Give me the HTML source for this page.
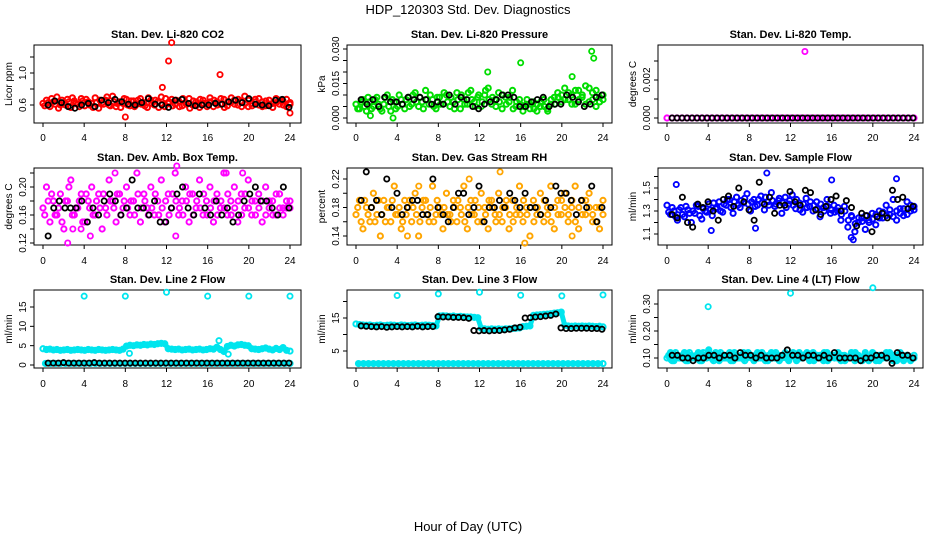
<!DOCTYPE html>
<html><head><meta charset="utf-8">
<style>
body{margin:0;background:#fff;}
svg{display:block;font-family:"Liberation Sans",sans-serif;}
</style></head>
<body>
<svg id="c" width="936" height="540"></svg>
<script>
// ---- data ----
const hours = [0,4,8,12,16,20,24];
const co2Vals = [0.62,0.66,0.58,0.64,0.70,0.60,0.63,0.67,0.57,0.65,0.61,0.68,0.59,0.64,0.62,0.69,0.56,0.63,0.66,0.60,0.71,0.58,0.64,0.62,0.67,0.59,0.65,0.61,0.68,0.63,0.57,0.66,0.60,0.64,0.70,0.58,0.62,0.67,0.61,0.65,0.59,0.63,0.68,0.60,0.64,0.57,0.66,0.62,0.69,0.58,0.64,0.61,0.67,0.59,0.63,0.66,0.60,0.65,0.71,0.58,0.62,0.67,0.60,0.64,0.59,0.66,0.62,0.68,0.61,0.65,0.58,0.63];
const co2Vals2 = [0.59,0.63,0.68,0.61,0.56,0.66,0.60,0.64,0.69,0.62,0.58,0.65,0.67,0.60,0.57,0.63,0.66,0.61,0.70,0.59,0.64,0.62,0.57,0.68,0.60,0.65,0.58,0.66,0.61,0.59,0.69,0.62,0.66,0.57,0.61,0.68,0.64,0.59,0.66,0.58,0.68,0.61,0.56,0.65,0.60,0.67,0.62,0.58,0.64,0.66,0.60,0.68,0.57,0.64,0.69,0.61,0.67,0.58,0.62,0.66,0.59,0.64,0.68,0.58,0.65,0.61,0.57,0.63,0.66,0.60,0.67,0.61];
const co2Black = [0.60,0.65,0.63,0.58,0.56,0.60,0.62,0.58,0.66,0.63,0.67,0.64,0.61,0.60,0.63,0.68,0.61,0.60,0.57,0.66,0.67,0.62,0.59,0.60,0.60,0.62,0.61,0.64,0.66,0.63,0.68,0.61,0.60,0.59,0.66,0.67,0.57];
const co2OutX = [8.0,11.6,12.2,12.5,17.2,24.0];
const co2OutY = [0.45,0.82,1.15,1.38,0.98,0.50];

const presVals = [0.006,0.004,0.008,0.003,0.007,0.005,0.009,0.004,0.006,0.010,0.003,0.007,0.005,0.008,0.004,0.009,0.006,0.011,0.005,0.007,0.012,0.006,0.008,0.004,0.009,0.006,0.010,0.005,0.007,0.011,0.004,0.008,0.006,0.012,0.007,0.009,0.005,0.010,0.013,0.006,0.008,0.011,0.004,0.009,0.007,0.012,0.005,0.008,0.003,0.006,0.004,0.007,0.003,0.005,0.008,0.004,0.006,0.009,0.011,0.007,0.013,0.008,0.010,0.006,0.012,0.009,0.014,0.007,0.011,0.005,0.009,0.008];
const presVals2 = [0.004,0.007,0.005,0.009,0.004,0.008,0.006,0.003,0.009,0.005,0.008,0.004,0.010,0.006,0.008,0.005,0.010,0.007,0.009,0.004,0.008,0.010,0.005,0.009,0.006,0.011,0.007,0.009,0.004,0.008,0.010,0.006,0.011,0.008,0.005,0.010,0.007,0.012,0.008,0.009,0.005,0.007,0.010,0.006,0.009,0.004,0.007,0.006,0.005,0.008,0.006,0.004,0.006,0.007,0.005,0.003,0.008,0.006,0.009,0.010,0.008,0.011,0.006,0.012,0.008,0.010,0.006,0.013,0.008,0.012,0.007,0.010];
const presBlack = [0.008,0.006,0.008,0.005,0.009,0.007,0.007,0.006,0.009,0.008,0.009,0.008,0.006,0.007,0.006,0.010,0.006,0.009,0.008,0.005,0.004,0.006,0.007,0.008,0.010,0.010,0.009,0.005,0.005,0.007,0.008,0.009,0.005,0.006,0.006,0.010,0.009,0.007,0.005,0.006,0.009,0.010];
const presOutX = [1.4,3.6,12.8,16.0,21.0,22.9,23.1];
const presOutY = [0.001,0.000,0.020,0.024,0.018,0.029,0.026];

const tempVals = [0,0,0,0,0,0,0,0,0,0,0,0,0,0,0,0,0,0,0,0,0,0,0,0,0,0,0,0,0,0,0,0,0,0,0,0,0,0,0,0,0,0,0,0,0,0,0,0,0,0,0];
const tempBlack = [0,0,0,0,0,0,0,0,0,0,0,0,0,0,0,0,0,0,0,0,0,0,0,0,0,0,0,0,0,0,0,0,0,0,0,0,0,0,0,0,0,0,0,0,0,0,0,0,0];
const tempOutX = [13.4];
const tempOutY = [0.0035];

const boxVals = [0.17,0.20,0.15,0.18,0.16,0.19,0.14,0.18,0.21,0.16,0.17,0.19,0.15,0.18,0.20,0.16,0.19,0.14,0.17,0.21,0.18,0.15,0.19,0.17,0.20,0.16,0.18,0.22,0.15,0.19,0.17,0.20,0.16,0.18,0.21,0.15,0.19,0.17,0.22,0.16,0.18,0.20,0.15,0.19,0.17,0.21,0.16,0.18,0.20,0.15,0.19,0.17,0.22,0.16,0.18,0.20,0.15,0.19,0.17,0.21,0.16,0.18,0.19,0.15,0.20,0.17,0.18,0.16,0.19,0.17,0.18,0.17];
const boxVals2 = [0.16,0.18,0.19,0.16,0.17,0.15,0.18,0.20,0.16,0.17,0.18,0.15,0.19,0.17,0.16,0.18,0.17,0.19,0.16,0.18,0.17,0.19,0.16,0.18,0.17,0.18,0.16,0.19,0.17,0.18,0.16,0.17,0.19,0.16,0.17,0.18,0.16,0.19,0.18,0.17,0.16,0.18,0.19,0.16,0.18,0.17,0.19,0.16,0.17,0.18,0.16,0.18,0.17,0.19,0.16,0.17,0.18,0.16,0.19,0.17,0.18,0.16,0.17,0.18,0.16,0.18,0.16,0.19,0.17,0.16,0.17,0.18];
const boxBlack = [0.13,0.17,0.18,0.17,0.17,0.17,0.18,0.15,0.17,0.16,0.18,0.19,0.18,0.16,0.17,0.21,0.17,0.17,0.16,0.18,0.15,0.15,0.17,0.19,0.20,0.17,0.16,0.19,0.17,0.16,0.18,0.16,0.17,0.15,0.16,0.18,0.19,0.20,0.18,0.18,0.17,0.16,0.20,0.17];
const boxOutX = [2.4,2.9,3.7,4.6,7.0,12.9,13.0,17.8,19.4];
const boxOutY = [0.12,0.14,0.14,0.13,0.22,0.13,0.23,0.22,0.22];

const rhVals = [0.17,0.19,0.15,0.18,0.16,0.20,0.17,0.14,0.19,0.18,0.16,0.21,0.17,0.15,0.19,0.18,0.16,0.20,0.14,0.18,0.19,0.16,0.21,0.17,0.18,0.15,0.20,0.17,0.19,0.16,0.18,0.21,0.15,0.19,0.17,0.16,0.20,0.18,0.15,0.19,0.17,0.20,0.16,0.18,0.15,0.19,0.17,0.21,0.16,0.18,0.14,0.19,0.17,0.20,0.16,0.18,0.21,0.15,0.19,0.17,0.20,0.16,0.18,0.21,0.15,0.19,0.17,0.20,0.16,0.18,0.15,0.19];
const rhVals2 = [0.18,0.16,0.19,0.17,0.18,0.16,0.19,0.17,0.16,0.18,0.19,0.17,0.18,0.16,0.17,0.19,0.18,0.17,0.16,0.19,0.17,0.18,0.16,0.19,0.17,0.18,0.17,0.16,0.18,0.19,0.17,0.16,0.18,0.17,0.19,0.18,0.16,0.17,0.19,0.18,0.16,0.17,0.18,0.19,0.17,0.16,0.18,0.17,0.19,0.17,0.18,0.16,0.18,0.17,0.19,0.17,0.16,0.18,0.17,0.19,0.18,0.17,0.19,0.16,0.18,0.17,0.19,0.18,0.17,0.16,0.18,0.17];
const rhBlack = [0.19,0.23,0.18,0.19,0.17,0.22,0.18,0.20,0.17,0.18,0.19,0.19,0.17,0.17,0.22,0.18,0.17,0.16,0.18,0.20,0.20,0.17,0.18,0.21,0.16,0.18,0.18,0.19,0.18,0.20,0.19,0.18,0.20,0.18,0.18,0.17,0.19,0.18,0.21,0.20,0.20,0.19,0.17,0.19,0.18,0.21,0.16,0.18];
const rhOutX = [5.0,6.1,11.0,14.0,16.4,21.0];
const rhOutY = [0.14,0.21,0.22,0.23,0.13,0.14];

const flowVals = [1.35,1.27,1.30,1.22,1.33,1.25,1.31,1.20,1.28,1.34,1.23,1.30,1.36,1.26,1.32,1.38,1.29,1.35,1.40,1.28,1.42,1.33,1.37,1.45,1.30,1.40,1.35,1.43,1.31,1.38,1.46,1.34,1.39,1.28,1.42,1.36,1.44,1.32,1.37,1.29,1.41,1.34,1.30,1.38,1.25,1.33,1.40,1.28,1.35,1.30,1.22,1.34,1.16,1.26,1.12,1.20,1.24,1.14,1.22,1.28,1.18,1.30,1.24,1.35,1.27,1.40,1.22,1.32,1.26,1.38,1.30,1.34];
const flowVals2 = [1.29,1.33,1.25,1.31,1.27,1.34,1.28,1.30,1.35,1.26,1.32,1.29,1.31,1.37,1.33,1.30,1.36,1.40,1.33,1.38,1.35,1.39,1.41,1.36,1.38,1.34,1.40,1.37,1.42,1.35,1.39,1.36,1.41,1.37,1.33,1.39,1.35,1.40,1.31,1.36,1.33,1.38,1.35,1.32,1.36,1.30,1.34,1.31,1.29,1.33,1.27,1.30,1.22,1.25,1.19,1.24,1.21,1.26,1.20,1.23,1.27,1.24,1.29,1.26,1.31,1.25,1.30,1.28,1.32,1.27,1.35,1.31];
const flowBlack = [1.27,1.24,1.42,1.20,1.16,1.36,1.33,1.38,1.30,1.22,1.40,1.43,1.34,1.50,1.38,1.31,1.22,1.55,1.36,1.42,1.28,1.35,1.35,1.47,1.38,1.35,1.48,1.46,1.31,1.27,1.34,1.40,1.43,1.30,1.39,1.33,1.17,1.28,1.26,1.12,1.25,1.28,1.24,1.48,1.40,1.42,1.32,1.34];
const flowOutX = [0.9,4.3,8.6,9.7,16.0,17.9,18.1,22.3];
const flowOutY = [1.53,1.13,1.15,1.63,1.57,1.07,1.05,1.58];

const l2Vals = [4.2,4.0,4.1,3.9,4.0,3.8,3.9,4.0,3.8,3.9,4.0,3.9,3.8,4.0,3.9,3.8,4.0,3.9,3.8,3.9,4.0,3.9,3.8,4.1,4.9,5.1,5.0,5.2,5.1,5.3,5.2,5.4,5.3,5.5,5.6,5.5,4.2,4.1,4.0,4.1,3.9,4.0,4.1,3.9,4.0,4.1,3.9,4.0,4.2,4.1,4.6,4.0,3.5,4.8,5.1,4.9,5.2,5.3,5.1,5.0,4.2,4.1,4.0,4.2,4.4,4.1,3.9,4.3,4.0,4.5,3.8,3.6];
const l2Black = [0.5,0.5,0.5,0.6,0.5,0.5,0.5,0.5,0.5,0.6,0.5,0.5,0.5,0.5,0.5,0.5,0.5,0.5,0.5,0.5,0.5,0.5,0.5,0.5,0.5,0.5,0.5,0.5,0.5,0.5,0.5,0.5,0.5,0.5,0.5,0.5,0.5,0.5,0.5,0.5,0.5,0.5,0.5,0.5,0.5,0.5,0.5,0.5];
const l2Low = [0.4,0.4,0.4,0.4,0.4,0.4,0.4,0.4,0.4,0.4,0.4,0.4,0.4,0.4,0.4,0.4,0.4,0.4,0.4,0.4,0.4,0.4,0.4,0.4,0.4,0.4,0.4,0.4,0.4,0.4,0.4,0.4,0.4,0.4,0.4,0.4,0.4,0.4,0.4,0.4,0.4,0.4,0.4,0.4,0.4,0.4,0.4,0.4,0.4,0.4];
const l2OutX = [4,8,12,16,20,24,17.1,8.4,18.0];
const l2OutY = [17.8,17.8,18.8,17.8,17.8,17.8,6.3,3.0,2.8];

const l3Vals = [13.2,13.0,12.9,12.8,12.9,12.7,12.8,12.9,12.7,12.8,12.9,12.8,12.7,12.9,12.8,12.7,12.8,12.9,12.7,12.8,12.9,12.8,12.7,12.6,15.6,15.7,15.6,15.5,15.6,15.4,15.5,15.4,15.3,15.3,15.2,15.1,11.9,11.7,11.6,11.7,11.6,11.7,11.6,11.7,11.7,11.8,11.9,12.0,12.4,12.5,12.6,15.8,15.9,16.0,16.1,16.2,16.3,16.5,16.6,16.8,12.8,12.6,12.5,12.6,12.5,12.6,12.5,12.6,12.5,12.4,12.5,12.3];
const l3Black = [12.6,12.5,12.4,12.3,12.4,12.2,12.3,12.4,12.3,12.4,12.3,12.5,12.3,12.4,12.4,15.4,15.3,15.3,15.2,15.2,15.1,14.9,11.2,11.1,11.2,11.1,11.2,11.2,11.4,11.6,12.0,12.2,15.0,15.1,15.3,15.4,15.6,15.8,16.2,12.0,11.8,11.8,11.9,11.9,11.9,11.8,11.8,11.6];
const l3Low = [1.2,1.2,1.2,1.2,1.2,1.2,1.2,1.2,1.2,1.2,1.2,1.2,1.2,1.2,1.2,1.2,1.2,1.2,1.2,1.2,1.2,1.2,1.2,1.2,1.2,1.2,1.2,1.2,1.2,1.2,1.2,1.2,1.2,1.2,1.2,1.2,1.2,1.2,1.2,1.2,1.2,1.2,1.2,1.2,1.2,1.2,1.2,1.2,1.2,1.2];
const l3OutX = [4,8,12,16,20,24];
const l3OutY = [21.8,22.3,22.8,21.9,21.7,22.0];

const l4Vals = [0.10,0.12,0.09,0.11,0.10,0.12,0.09,0.11,0.10,0.12,0.09,0.11,0.13,0.10,0.12,0.09,0.11,0.10,0.12,0.09,0.11,0.10,0.12,0.10,0.11,0.09,0.12,0.10,0.11,0.09,0.12,0.10,0.11,0.10,0.12,0.09,0.11,0.10,0.12,0.10,0.11,0.09,0.12,0.10,0.11,0.09,0.12,0.10,0.11,0.10,0.09,0.11,0.10,0.12,0.09,0.11,0.10,0.12,0.09,0.11,0.10,0.09,0.11,0.10,0.12,0.09,0.11,0.10,0.09,0.11,0.10,0.10];
const l4Vals2 = [0.11,0.09,0.12,0.10,0.11,0.09,0.12,0.10,0.11,0.09,0.12,0.10,0.11,0.09,0.10,0.12,0.10,0.11,0.09,0.12,0.10,0.11,0.09,0.12,0.10,0.11,0.10,0.12,0.09,0.11,0.10,0.12,0.09,0.11,0.10,0.11,0.12,0.09,0.10,0.11,0.12,0.10,0.09,0.11,0.10,0.12,0.09,0.11,0.10,0.12,0.11,0.09,0.10,0.11,0.12,0.10,0.09,0.11,0.10,0.12,0.09,0.11,0.10,0.12,0.10,0.11,0.09,0.12,0.10,0.11,0.09,0.11];
const l4Black = [0.11,0.11,0.10,0.10,0.09,0.10,0.10,0.11,0.11,0.10,0.11,0.11,0.10,0.12,0.11,0.11,0.10,0.11,0.10,0.10,0.10,0.11,0.13,0.11,0.11,0.10,0.11,0.11,0.10,0.11,0.10,0.12,0.10,0.10,0.10,0.10,0.09,0.10,0.10,0.11,0.11,0.10,0.08,0.12,0.11,0.11,0.10];
const l4OutX = [4,12,20];
const l4OutY = [0.29,0.34,0.36];

// ---- drawing ----
const svg = document.getElementById('c');
const NS = 'http://www.w3.org/2000/svg';
function mk(tag, attrs, parent){
  const e = document.createElementNS(NS, tag);
  for (const k in attrs) e.setAttribute(k, attrs[k]);
  (parent||svg).appendChild(e);
  return e;
}
function txt(s, x, y, attrs, parent){
  const t = mk('text', Object.assign({x:x,y:y}, attrs), parent);
  t.textContent = s;
  return t;
}

const cols = [{bl:34,br:301,x0:43},{bl:347,br:612,x0:356},{bl:658,br:923,x0:667}];
const rows = [{bt:45,bb:123,lab:137},{bt:168,bb:245,lab:260},{bt:290,bb:368,lab:383}];
const XW = 247;

function panel(ci, ri, name, title, ylab, y0v, y0p, y1v, y1p, ticks, labels, color, series, black, outX, outY, pr, band){
  const c = cols[ci], r = rows[ri];
  const g = mk('g', {});
  
  
  const xs = h => c.x0 + h / 24 * XW;
  const ys = v => y0p + (v - y0v) / (y1v - y0v) * (y1p - y0p);
  const tt = txt(title, (c.bl + c.br) / 2, r.bt - 7, {'text-anchor':'middle','font-size':'11','font-weight':'bold'}, g);
  
  
  const box = mk('rect', {x:c.bl, y:r.bt, width:c.br - c.bl, height:r.bb - r.bt, fill:'none', stroke:'#000', 'stroke-width':1}, g);
  
  
  hours.forEach(h => {
    mk('line', {x1:xs(h), x2:xs(h), y1:r.bb, y2:r.bb + 4, stroke:'#000'}, g);
    const lt = txt(String(h), xs(h), r.lab + 4, {'text-anchor':'middle','font-size':'10'}, g);
    
    
  });
  ticks.forEach(v => {
    mk('line', {x1:c.bl - 4, x2:c.bl, y1:ys(v), y2:ys(v), stroke:'#000'}, g);
  });
  labels.forEach(v => {
    const x = c.bl - 8, y = ys(v);
    const lt = txt(v.toFixed(pr), x, y, {'text-anchor':'middle','font-size':'10',transform:'rotate(-90 ' + x + ' ' + y + ')'}, g);
    
    
  });
  const yx = c.bl - 22, yy = (r.bt + r.bb) / 2;
  const yl = txt(ylab, yx, yy, {'text-anchor':'middle','font-size':'10',transform:'rotate(-90 ' + yx + ' ' + yy + ')'}, g);
  
  
  const dot = (h, v, col, sw) => {
    const ci2 = mk('circle', {cx:xs(h), cy:ys(v), r:2.6, fill:'none', stroke:col, 'stroke-width':sw}, g);
    
    
  };
  series.forEach((vals, si) => {
    if (band) {
      const pl = mk('polyline', {points: vals.map((v, i) => xs(i * 24 / (vals.length - 1)) + ',' + ys(v)).join(' '), fill:'none', stroke:color, 'stroke-width':5, 'stroke-linejoin':'round'}, g);
      
      
    }
    vals.forEach((v, i) => dot((i + si * 0.5) * 24 / (vals.length - 1 + si * 0.5), v, color, 2));
  });
  outX.forEach((h, i) => dot(h, outY[i], color, 1.8));
  black.forEach((v, i) => dot(0.5 + i * 23.4 / (black.length - 1), v, '#000', 1.8));
}

const tt = txt('HDP_120303  Std. Dev. Diagnostics', 468, 14, {'text-anchor':'middle','font-size':'13'});


const xl = txt('Hour of Day (UTC)', 468, 531, {'text-anchor':'middle','font-size':'13'});



panel(0,0,'panel-co2','Stan. Dev. Li-820 CO2','Licor ppm',0.6,105,1.0,73,[0.6,0.8,1.0,1.2],[0.6,1.0],'#ff0000',[co2Vals,co2Vals2],co2Black,co2OutX,co2OutY,1,false);
panel(1,0,'panel-pressure','Stan. Dev. Li-820 Pressure','kPa',0,118,0.03,49,[0,0.005,0.01,0.015,0.02,0.025,0.03],[0,0.015,0.03],'#00dd00',[presVals,presVals2],presBlack,presOutX,presOutY,3,false);
panel(2,0,'panel-temp','Stan. Dev. Li-820 Temp.','degrees C',0,118,0.002,80,[0,0.001,0.002,0.003],[0,0.002],'#ff00ff',[tempVals],tempBlack,tempOutX,tempOutY,3,false);
panel(0,1,'panel-box-temp','Stan. Dev. Amb. Box Temp.','degrees C',0.12,243,0.20,187,[0.12,0.14,0.16,0.18,0.20,0.22],[0.12,0.16,0.20],'#ff00ff',[boxVals,boxVals2],boxBlack,boxOutX,boxOutY,2,false);
panel(1,1,'panel-rh','Stan. Dev. Gas Stream RH','percent',0.14,236,0.22,179,[0.14,0.16,0.18,0.20,0.22],[0.14,0.18,0.22],'#ffa500',[rhVals,rhVals2],rhBlack,rhOutX,rhOutY,2,false);
panel(2,1,'panel-sample-flow','Stan. Dev. Sample Flow','ml/min',1.1,234,1.5,188,[1.1,1.2,1.3,1.4,1.5,1.6],[1.1,1.3,1.5],'#0000ff',[flowVals,flowVals2],flowBlack,flowOutX,flowOutY,1,false);
panel(0,2,'panel-line2','Stan. Dev. Line 2 Flow','ml/min',0,365,15,307,[0,5,10,15],[0,5,10,15],'#00e5ee',[l2Vals,l2Low],l2Black,l2OutX,l2OutY,0,true);
panel(1,2,'panel-line3','Stan. Dev. Line 3 Flow','ml/min',5,351,15,318,[5,10,15,20],[5,15],'#00e5ee',[l3Vals,l3Low],l3Black,l3OutX,l3OutY,0,true);
panel(2,2,'panel-line4','Stan. Dev. Line 4 (LT) Flow','ml/min',0.1,358,0.3,304,[0.1,0.15,0.2,0.25,0.3],[0.1,0.2,0.3],'#00e5ee',[l4Vals,l4Vals2],l4Black,l4OutX,l4OutY,2,true);
</script>
</body></html>
